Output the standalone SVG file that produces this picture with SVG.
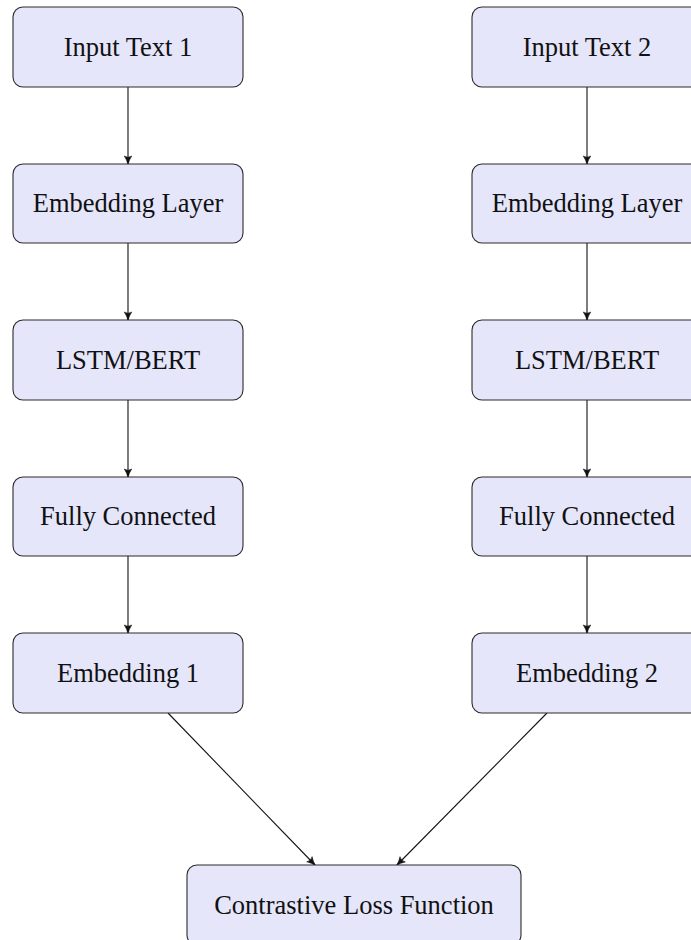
<svg xmlns="http://www.w3.org/2000/svg" width="691" height="940" viewBox="0 0 691 940">
<style>
.box{fill:#e6e6fb;stroke:#2a2a2a;stroke-width:1.1}
.lbl{font-family:"Liberation Serif","Times New Roman",serif;font-size:26.5px;fill:#111;text-anchor:middle}
.edge{stroke:#111;stroke-width:1.1;fill:none;marker-end:url(#ah)}
</style>
<defs>
<marker id="ah" viewBox="0 0 10 10" refX="9" refY="5" markerWidth="10" markerHeight="10" markerUnits="userSpaceOnUse" orient="auto">
<path d="M1,1.3 Q5,4 9.5,5 Q5,6 1,8.7 Q3.5,5 1,1.3 Z" fill="#111" stroke="#111" stroke-width="0.6"/>
</marker>
</defs>
<g id="edges">
<path class="edge" d="M128,87 V164"/>
<path class="edge" d="M128,243 V320"/>
<path class="edge" d="M128,400 V477"/>
<path class="edge" d="M128,556 V633"/>
<path class="edge" d="M587,87 V164"/>
<path class="edge" d="M587,243 V320"/>
<path class="edge" d="M587,400 V477"/>
<path class="edge" d="M587,556 V633"/>
<path class="edge" d="M168,713 L315,865"/>
<path class="edge" d="M547,713 L397,865"/>
</g>
<g id="in1"><rect class="box" x="13" y="7" width="230" height="80" rx="10"/><text class="lbl" x="128" y="56">Input Text 1</text></g>
<g id="emb1"><rect class="box" x="13" y="164" width="230" height="79" rx="10"/><text class="lbl" x="128" y="212">Embedding Layer</text></g>
<g id="lstm1"><rect class="box" x="13" y="320" width="230" height="80" rx="10"/><text class="lbl" x="128" y="369">LSTM/BERT</text></g>
<g id="fc1"><rect class="box" x="13" y="477" width="230" height="79" rx="10"/><text class="lbl" x="128" y="525">Fully Connected</text></g>
<g id="out1"><rect class="box" x="13" y="633" width="230" height="80" rx="10"/><text class="lbl" x="128" y="682">Embedding 1</text></g>
<g id="in2"><rect class="box" x="472" y="7" width="230" height="80" rx="10"/><text class="lbl" x="587" y="56">Input Text 2</text></g>
<g id="emb2"><rect class="box" x="472" y="164" width="230" height="79" rx="10"/><text class="lbl" x="587" y="212">Embedding Layer</text></g>
<g id="lstm2"><rect class="box" x="472" y="320" width="230" height="80" rx="10"/><text class="lbl" x="587" y="369">LSTM/BERT</text></g>
<g id="fc2"><rect class="box" x="472" y="477" width="230" height="79" rx="10"/><text class="lbl" x="587" y="525">Fully Connected</text></g>
<g id="out2"><rect class="box" x="472" y="633" width="230" height="80" rx="10"/><text class="lbl" x="587" y="682">Embedding 2</text></g>
<g id="loss"><rect class="box" x="187" y="865" width="334" height="80" rx="10"/><text class="lbl" x="354" y="914">Contrastive Loss Function</text></g>
</svg>
